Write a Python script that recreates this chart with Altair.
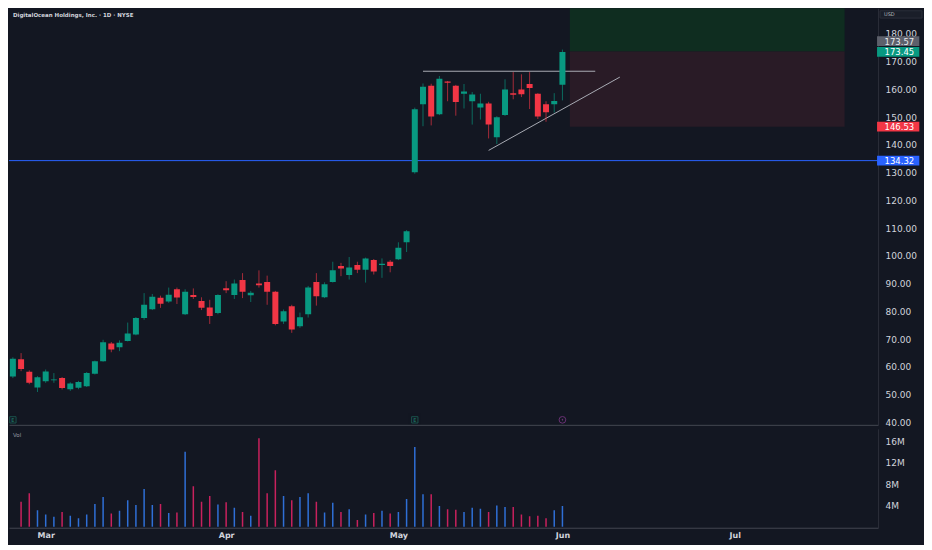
import altair as alt
import pandas as pd

# ---------------- data ----------------
TITLE = "DigitalOcean Holdings, Inc. · 1D · NYSE"

opens = [56.6, 62.8, 58.3, 52.6, 54.9, 55.2, 56.0, 52.0, 52.5, 53.1, 57.6, 62.1, 68.5, 67.1, 69.4, 71.7,
         77.6, 80.8, 84.9, 83.6, 88.0, 79.0, 85.9, 83.8, 81.4, 79.4, 88.4, 85.9, 91.3, 85.8, 90.1, 90.6,
         87.1, 76.4, 81.9, 74.7, 79.0, 90.6, 85.1, 90.6, 96.4, 93.1, 96.7, 95.0, 98.5, 96.7, 97.9, 98.8,
         104.9, 130.1, 154.6, 161.3, 151.0, 162.8, 161.3, 158.4, 155.7, 153.4, 154.9, 142.7, 150.7, 158.6,
         159.9, 161.9, 158.4, 154.6, 154.6, 161.6]
closes = [63.0, 59.3, 54.3, 56.3, 58.4, 55.5, 52.4, 54.1, 54.6, 57.8, 62.1, 68.9, 66.3, 68.7, 72.1, 77.6,
          82.4, 85.3, 82.8, 86.0, 85.0, 87.1, 85.2, 81.3, 78.4, 85.9, 87.6, 90.1, 87.1, 86.7, 89.4, 87.1,
          75.5, 80.1, 73.5, 77.9, 88.6, 85.5, 89.8, 94.8, 95.5, 95.8, 95.0, 99.1, 94.4, 97.2, 96.4, 102.9,
          108.9, 152.8, 160.9, 150.2, 163.8, 162.4, 155.4, 159.2, 158.1, 154.9, 147.3, 149.9, 159.9, 158.0,
          158.2, 160.5, 150.2, 151.7, 155.8, 173.45]
highs = [63.5, 65.0, 58.8, 56.7, 59.1, 57.8, 56.4, 54.5, 55.0, 58.2, 62.3, 69.8, 69.0, 69.6, 76.0, 78.0,
         86.6, 86.3, 85.7, 88.6, 88.6, 88.0, 88.3, 85.1, 84.2, 86.2, 90.9, 91.5, 93.8, 87.4, 94.8, 92.9,
         87.4, 80.7, 82.4, 79.6, 89.2, 93.8, 90.5, 97.9, 97.5, 99.6, 97.9, 99.4, 98.9, 99.1, 98.5, 104.9,
         109.3, 153.4, 162.1, 162.0, 164.8, 163.0, 161.6, 161.9, 159.0, 158.4, 155.5, 150.3, 163.6, 166.2,
         165.4, 166.2, 158.6, 155.7, 158.6, 174.3]
lows = [56.0, 58.5, 53.8, 51.0, 54.3, 54.3, 51.9, 51.4, 52.0, 52.8, 57.3, 61.9, 65.3, 65.7, 69.2, 71.4,
        77.0, 80.5, 81.3, 83.1, 82.7, 78.7, 84.5, 80.5, 75.5, 79.0, 86.6, 84.5, 84.8, 83.4, 88.6, 82.4,
        75.0, 75.5, 72.3, 74.1, 77.8, 82.1, 84.8, 90.4, 92.7, 91.5, 93.8, 90.4, 93.3, 92.1, 94.1, 98.5,
        101.4, 129.6, 146.7, 147.0, 150.7, 155.7, 150.5, 153.1, 147.3, 149.1, 142.3, 140.3, 150.4, 156.4,
        157.2, 152.9, 149.3, 148.3, 151.6, 156.0]
# volume in millions (first candle is cut off at the left edge, its volume is not visible)
volumes = [None, 4.7, 6.3, 3.1, 2.3, 1.9, 2.8, 2.1, 1.6, 2.3, 4.3, 5.6, 2.5, 3.0, 5.0, 4.1, 7.1, 4.1,
           4.3, 2.6, 2.7, 14.1, 7.6, 4.7, 5.8, 4.2, 4.6, 3.6, 2.8, 2.1, 16.6, 6.3, 10.6, 5.8, 5.0,
           5.6, 6.3, 4.7, 2.7, 4.5, 2.8, 3.3, 1.3, 2.3, 2.6, 3.0, 2.5, 2.8, 5.2, 15.0, 6.1, 6.1, 3.9,
           3.3, 3.2, 2.8, 3.6, 3.4, 2.8, 4.0, 3.7, 3.7, 2.3, 2.0, 2.1, 1.6, 3.1, 3.9]

month_names = ["Mar", "Apr", "May", "Jun", "Jul"]
month_bar = [4, 26, 47, 67, 88]
price_ticks = [40, 50, 60, 70, 80, 90, 100, 110, 120, 130, 140, 150, 160, 170, 180]
vol_ticks = [4, 8, 12, 16]

# drawings
resist_bar = [50, 71]
resist_price = [166.5, 166.5]
trend_bar = [58, 74]
trend_price = [138.0, 164.4]
level_price = 134.32
pos_bar = [67.9, 101.4]
pos_target, pos_entry, pos_stop = 200.0, 173.57, 146.53
tag_text = ["173.45", "146.53", "134.32"]
tag_price = [173.45, 146.53, 134.32]
tag_color = ["#089981", "#f23645", "#2962ff"]
entry_tag_text = "173.57"
earn_bar = [0, 49]
other_bar = [67]

# ---------------- styling ----------------
BG = "#131722"
UP, DOWN = "#089981", "#f23645"
VUP, VDOWN = "#2f6fd6", "#c8215d"
LBL = "#d1d4dc"
FONT = "DejaVu Sans"
W, HP, HV = 870, 417, 99
XDOM = [0.136, 104.87]

n = len(opens)
df = pd.DataFrame({
    "k": list(range(n)), "open": opens, "close": closes, "high": highs, "low": lows,
    "vol": volumes,
})

UPTEST = "datum.close >= datum.open"

xscale = alt.Scale(domain=XDOM, nice=False, zero=False)
pax_x = alt.Axis(labels=False, ticks=False, domain=True, domainColor="#434651", grid=False,
                 title=None, minExtent=0, maxExtent=0)
yscale = alt.Scale(domain=[39.17, 189.17], nice=False, zero=False)
yax = alt.Axis(orient="right", values=price_ticks, format=".2f", labelColor=LBL, labelFont=FONT,
               labelFontSize=9, ticks=False, domain=True, domainColor="#2a2e39", grid=False,
               title=None, labelPadding=7, minExtent=46, maxExtent=46, labelOverlap=False)

base = alt.Chart(df)

wicks = base.mark_rule(strokeWidth=1, opacity=0.65, clip=True).encode(
    x=alt.X("k:Q", scale=xscale, axis=pax_x),
    y=alt.Y("low:Q", scale=yscale, axis=yax),
    y2="high:Q", color=alt.condition(UPTEST, alt.value(UP), alt.value(DOWN)))
bodies = base.mark_bar(size=6, clip=True).encode(
    x=alt.X("k:Q", scale=xscale, axis=pax_x),
    y=alt.Y("open:Q", scale=yscale, axis=yax),
    y2="close:Q", color=alt.condition(UPTEST, alt.value(UP), alt.value(DOWN)))

profit_df = pd.DataFrame({"k0": [pos_bar[0]], "k1": [pos_bar[1]], "p0": [pos_entry], "p1": [pos_target]})
loss_df = pd.DataFrame({"k0": [pos_bar[0]], "k1": [pos_bar[1]], "p0": [pos_stop], "p1": [pos_entry]})
profit_rect = alt.Chart(profit_df).mark_rect(clip=True, color="#0f2d20").encode(
    x=alt.X("k0:Q", scale=xscale, axis=pax_x), x2="k1:Q",
    y=alt.Y("p0:Q", scale=yscale, axis=yax), y2="p1:Q")
loss_rect = alt.Chart(loss_df).mark_rect(clip=True, color="#291b26").encode(
    x=alt.X("k0:Q", scale=xscale, axis=pax_x), x2="k1:Q",
    y=alt.Y("p0:Q", scale=yscale, axis=yax), y2="p1:Q")

level = alt.Chart(pd.DataFrame({"p": [level_price]})).mark_rule(
    color="#2962ff", strokeWidth=1).encode(y=alt.Y("p:Q", scale=yscale, axis=yax))

lines_df = pd.DataFrame({
    "k": resist_bar + trend_bar, "p": resist_price + trend_price,
    "g": ["r", "r", "t", "t"]})
draw_lines = alt.Chart(lines_df).mark_line(color="#a9acb5", strokeWidth=1, clip=True).encode(
    x=alt.X("k:Q", scale=xscale, axis=pax_x),
    y=alt.Y("p:Q", scale=yscale, axis=yax), detail="g:N")

ev_e = alt.Chart(pd.DataFrame({"k": earn_bar})).mark_point(
    shape="square", filled=False, size=40, strokeWidth=1, color="#1f6b5c", clip=True).encode(
    x=alt.X("k:Q", scale=xscale, axis=pax_x), y=alt.value(HP - 5))
ev_e_txt = alt.Chart(pd.DataFrame({"k": earn_bar})).mark_text(
    text="E", fontSize=5, font=FONT, color="#1f8a74", clip=True, baseline="middle").encode(
    x=alt.X("k:Q", scale=xscale, axis=pax_x), y=alt.value(HP - 5))
ev_o = alt.Chart(pd.DataFrame({"k": other_bar})).mark_point(
    shape="circle", filled=False, size=45, strokeWidth=1, color="#8e3c98").encode(
    x=alt.X("k:Q", scale=xscale, axis=pax_x), y=alt.value(HP - 5))
ev_o_in = alt.Chart(pd.DataFrame({"k": other_bar})).mark_point(
    shape="M0.3,-1L-0.6,0.15H0L-0.3,1L0.6,-0.15H0Z", filled=True, size=10, color="#8e3c98",
    opacity=1).encode(
    x=alt.X("k:Q", scale=xscale, axis=pax_x), y=alt.value(HP - 5))

title_txt = alt.Chart(pd.DataFrame({"t": [TITLE]})).mark_text(
    align="left", baseline="middle", font=FONT, fontSize=5.5, fontWeight="bold",
    color=LBL).encode(text="t:N", x=alt.value(4), y=alt.value(7))

TAG_PATH = "M0,-0.23H2V0.23H0Z"
tags_df = pd.DataFrame({"t": tag_text, "p": tag_price, "c": tag_color})
tag_boxes = alt.Chart(tags_df).mark_point(
    shape=TAG_PATH, filled=True, size=1790, opacity=1).encode(
    x=alt.value(W - 1), y=alt.Y("p:Q", scale=yscale, axis=yax),
    color=alt.Color("c:N", scale=None))
tag_texts = alt.Chart(tags_df).mark_text(
    align="left", baseline="middle", font=FONT, fontSize=8.5, color="#ffffff").encode(
    x=alt.value(W + 6.5), y=alt.Y("p:Q", scale=yscale, axis=yax), text="t:N")
entry_df = pd.DataFrame({"t": [entry_tag_text], "p": [pos_entry]})
entry_box = alt.Chart(entry_df).mark_point(
    shape=TAG_PATH, filled=True, size=1790, opacity=1, color="#5d606b", yOffset=-10.5).encode(
    x=alt.value(W - 1), y=alt.Y("p:Q", scale=yscale, axis=yax))
entry_txt = alt.Chart(entry_df).mark_text(
    align="left", baseline="middle", font=FONT, fontSize=8.5, color="#e8e9ed", yOffset=-10).encode(
    x=alt.value(W + 6.5), y=alt.Y("p:Q", scale=yscale, axis=yax), text="t:N")

usd_box = alt.Chart(pd.DataFrame({"a": [0]})).mark_rect(
    fill="#1a1e29", stroke="#2a2e39", strokeWidth=1).encode(
    x=alt.value(W + 2), x2=alt.value(W + 44), y=alt.value(2.5), y2=alt.value(9.8))
usd_txt = alt.Chart(pd.DataFrame({"t": ["USD"]})).mark_text(
    align="left", baseline="middle", font=FONT, fontSize=5, color="#b2b5be").encode(
    x=alt.value(W + 6), y=alt.value(6.2), text="t:N")

price_panel = alt.layer(
    profit_rect, loss_rect, level, draw_lines, wicks, bodies, ev_e, ev_e_txt, ev_o, ev_o_in,
    title_txt, entry_box, entry_txt, tag_boxes, tag_texts, usd_box, usd_txt
).properties(width=W, height=HP)

# ---------------- volume panel ----------------
label_expr = " : ".join(
    [f"datum.value == {b} ? '{m}'" for b, m in zip(month_bar, month_names)]) + " : ''"
vax_x = alt.Axis(values=month_bar, labelExpr=label_expr, labelColor=LBL, labelFont=FONT,
                 labelFontSize=8, labelFontWeight="bold", ticks=False, domain=True,
                 domainColor="#434651", grid=False, title=None, labelPadding=4,
                 labelFlush=False, minExtent=17, maxExtent=17)
vax_y = alt.Axis(orient="right", values=vol_ticks, labelExpr="datum.value + 'M'", labelColor=LBL,
                 labelFont=FONT, labelFontSize=9, ticks=False, domain=True, domainColor="#2a2e39",
                 grid=False, title=None, labelPadding=7, minExtent=46, maxExtent=46)

vol_bars = alt.Chart(df).mark_bar(size=1.5, clip=True).encode(
    x=alt.X("k:Q", scale=xscale, axis=vax_x),
    y=alt.Y("vol:Q", scale=alt.Scale(domain=[-0.17, 18.39], nice=False, zero=False), axis=vax_y),
    color=alt.condition(UPTEST, alt.value(VUP), alt.value(VDOWN)))
vol_lbl = alt.Chart(pd.DataFrame({"t": ["Vol"]})).mark_text(
    align="left", baseline="middle", font=FONT, fontSize=5.5, color="#9598a1").encode(
    x=alt.value(4), y=alt.value(6), text="t:N")

vol_panel = alt.layer(vol_bars, vol_lbl).properties(width=W, height=HV)

chart = alt.vconcat(price_panel, vol_panel, spacing=1).properties(
    padding=0, background=BG
).configure_view(strokeWidth=0)

chart.save("out.html", embed_options={"renderer": "svg", "actions": False})
